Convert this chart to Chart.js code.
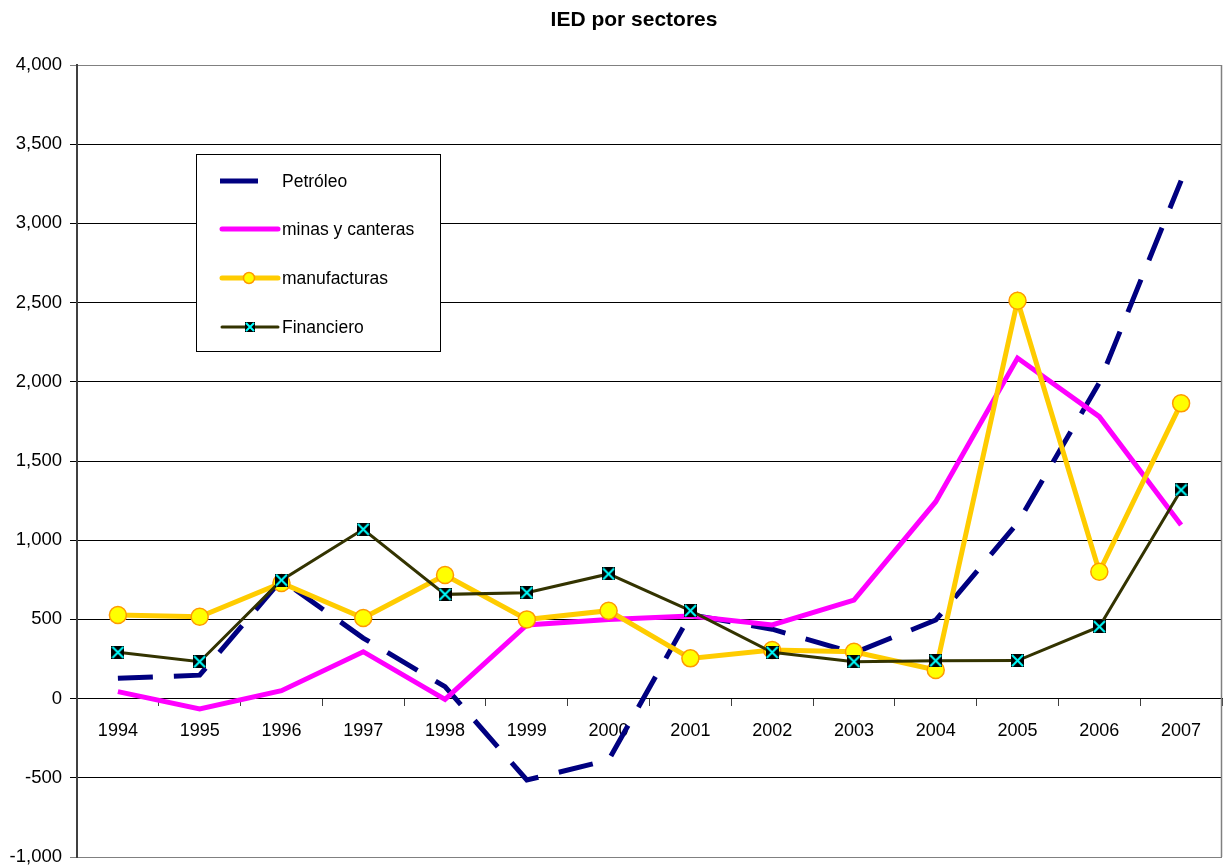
<!DOCTYPE html>
<html>
<head>
<meta charset="utf-8">
<title>IED por sectores</title>
<script src="https://cdn.jsdelivr.net/npm/chart.js@4.4.1/dist/chart.umd.min.js"></script>
<style>
  html, body { margin: 0; padding: 0; background: #fff; overflow: hidden; }
  #wrap { width: 1226px; height: 866px; position: relative; }
</style>
</head>
<body>
<div id="wrap"><canvas id="chart"></canvas></div>
<script>
const years = ['1994', '1995', '1996', '1997', '1998', '1999', '2000', '2001', '2002', '2003', '2004', '2005', '2006', '2007'];
const petroleo = [128, 148, 750, 382, 75, -514, -388, 530, 438, 288, 496, 1108, 1995, 3270];
const minas = [44, -66, 50, 296, -5, 465, 500, 521, 465, 622, 1243, 2150, 1780, 1096];
const manufacturas = [528, 517, 730, 509, 780, 500, 555, 254, 307, 296, 181, 2512, 801, 1864];
const financiero = [292, 233, 748, 1069, 658, 669, 787, 555, 292, 233, 239, 240, 454, 1317];

const FONT = '"Liberation Sans", Arial, sans-serif';

// black square with a cyan cross, used as point style for Financiero
const makeCrossBox = (size) => {
  const c = document.createElement('canvas');
  c.width = size;
  c.height = size;
  const g = c.getContext('2d');
  g.fillStyle = '#000';
  g.fillRect(0, 0, size, size);
  g.strokeStyle = '#00ffff';
  g.lineWidth = 2;
  g.beginPath();
  g.moveTo(1, 1); g.lineTo(size - 1, size - 1);
  g.moveTo(size - 1, 1); g.lineTo(1, size - 1);
  g.stroke();
  return c;
};
const crossBox = makeCrossBox(13);

// scales should not push the plot area in, the paddings are set by hand
const noScalePadding = (scale) => {
  scale.paddingLeft = 0;
  scale.paddingRight = 0;
  scale.paddingTop = 0;
  scale.paddingBottom = 0;
};

const titlePlugin = {
  id: 'excelTitle',
  afterDraw(chart) {
    const ctx = chart.ctx;
    ctx.save();
    ctx.fillStyle = '#000';
    ctx.font = 'bold 21px ' + FONT;
    ctx.textAlign = 'center';
    ctx.textBaseline = 'alphabetic';
    ctx.fillText('IED por sectores', 634, 26);
    ctx.restore();
  }
};

const framePlugin = {
  id: 'frame',
  beforeDatasetsDraw(chart) {
    const { ctx, chartArea: a } = chart;
    ctx.save();
    ctx.strokeStyle = '#808080';
    ctx.lineWidth = 1.5;
    ctx.beginPath();
    ctx.moveTo(a.right - 0.5, a.top);
    ctx.lineTo(a.right - 0.5, a.bottom);
    ctx.stroke();
    ctx.restore();
  }
};

const legendPlugin = {
  id: 'boxLegend',
  afterDatasetsDraw(chart) {
    const ctx = chart.ctx;
    const x = 196, y = 154, w = 244, h = 197;
    ctx.save();
    ctx.fillStyle = '#fff';
    ctx.fillRect(x, y, w, h);
    ctx.strokeStyle = '#000';
    ctx.lineWidth = 1;
    ctx.strokeRect(x + 0.5, y + 0.5, w, h);

    ctx.font = '17.5px ' + FONT;
    ctx.fillStyle = '#000';
    ctx.textBaseline = 'middle';
    ctx.textAlign = 'left';

    const rows = [181, 229, 278, 327];
    const labels = chart.data.datasets.map(d => d.label);

    // Petróleo
    ctx.strokeStyle = '#000080';
    ctx.lineWidth = 5;
    ctx.beginPath();
    ctx.moveTo(220, rows[0]); ctx.lineTo(258, rows[0]);
    ctx.stroke();

    // minas y canteras
    ctx.strokeStyle = '#ff00ff';
    ctx.lineCap = 'round';
    ctx.beginPath();
    ctx.moveTo(222, rows[1]); ctx.lineTo(278, rows[1]);
    ctx.stroke();

    // manufacturas
    ctx.strokeStyle = '#ffcc00';
    ctx.beginPath();
    ctx.moveTo(222, rows[2]); ctx.lineTo(278, rows[2]);
    ctx.stroke();
    ctx.lineCap = 'butt';
    ctx.fillStyle = '#ffff00';
    ctx.strokeStyle = '#ff9900';
    ctx.lineWidth = 1.5;
    ctx.beginPath();
    ctx.arc(249, rows[2], 5.5, 0, Math.PI * 2);
    ctx.fill();
    ctx.stroke();

    // Financiero
    ctx.strokeStyle = '#333300';
    ctx.lineWidth = 3;
    ctx.lineCap = 'round';
    ctx.beginPath();
    ctx.moveTo(222, rows[3]); ctx.lineTo(278, rows[3]);
    ctx.stroke();
    ctx.drawImage(makeCrossBox(10), 245, rows[3] - 5);

    ctx.fillStyle = '#000';
    labels.forEach((lab, i) => ctx.fillText(lab, 282, rows[i] + 1));
    ctx.restore();
  }
};

new Chart(document.getElementById('chart'), {
  type: 'line',
  data: {
    labels: years,
    datasets: [
      {
        label: 'Petróleo',
        data: petroleo,
        borderColor: '#000080',
        borderWidth: 5,
        borderDash: [35, 21],
        pointRadius: 0,
        tension: 0,
        order: 4,
      },
      {
        label: 'minas y canteras',
        data: minas,
        borderColor: '#ff00ff',
        borderWidth: 5,
        pointRadius: 0,
        tension: 0,
        order: 3,
      },
      {
        label: 'manufacturas',
        data: manufacturas,
        borderColor: '#ffcc00',
        borderWidth: 5,
        pointRadius: 8.5,
        pointBackgroundColor: '#ffff00',
        pointBorderColor: '#ff9900',
        pointBorderWidth: 1.5,
        tension: 0,
        order: 2,
      },
      {
        label: 'Financiero',
        data: financiero,
        borderColor: '#333300',
        borderWidth: 3,
        pointStyle: crossBox,
        pointRadius: 7,
        tension: 0,
        order: 1,
      },
    ],
  },
  options: {
    responsive: true,
    maintainAspectRatio: false,
    animation: false,
    events: [],
    layout: {
      autoPadding: false,
      padding: { top: 65, right: 4, bottom: 9, left: 0 },
    },
    plugins: {
      legend: { display: false },
      title: { display: false },
      tooltip: { enabled: false },
    },
    scales: {
      x: {
        position: { y: 0 },
        offset: true,
        afterFit: noScalePadding,
        grid: {
          offset: true,
          drawOnChartArea: false,
          drawTicks: true,
          tickLength: 7,
          color: '#404040',
        },
        border: { display: true, color: '#000', width: 1 },
        ticks: {
          color: '#000',
          font: { family: FONT, size: 18 },
          padding: 15,
          maxRotation: 0,
          autoSkip: false,
        },
      },
      y: {
        min: -1000,
        max: 4000,
        afterFit(scale) {
          noScalePadding(scale);
          scale.width = 77;
        },
        grid: {
          color: (c) => (c.tick && (c.tick.value === 4000 || c.tick.value === -1000)) ? '#808080' : '#000',
          lineWidth: 1,
          tickLength: 7,
        },
        border: { display: true, color: '#404040', width: 2 },
        ticks: {
          stepSize: 500,
          color: '#000',
          padding: 8,
          font: { family: FONT, size: 18.5 },
          callback: (v) => v.toLocaleString('en-US'),
        },
      },
    },
  },
  plugins: [titlePlugin, framePlugin, legendPlugin],
});
</script>
</body>
</html>
